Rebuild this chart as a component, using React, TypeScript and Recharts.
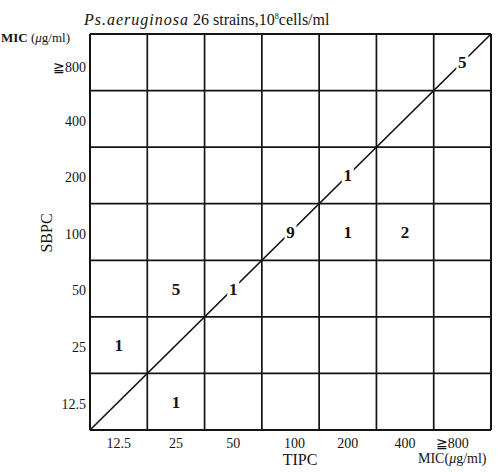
import React from 'react';
import { ScatterChart, Scatter, XAxis, YAxis, ReferenceLine } from 'recharts';

// MIC classes, lowest first (same for both drugs)
const TIPC_LABELS = ['12.5', '25', '50', '100', '200', '400', '≧800'];
const SBPC_LABELS = ['12.5', '25', '50', '100', '200', '400', '≧800'];

// strain counts per (TIPC, SBPC) cell
const CELL_TIPC = ['12.5', '25', '25', '50', '100', '200', '400', '200', '≧800'];
const CELL_SBPC = ['25', '12.5', '50', '50', '100', '100', '100', '200', '≧800'];
const CELL_COUNT = [1, 1, 5, 1, 9, 1, 2, 1, 5];

const INK = '#141414';
const FONT = '"Liberation Serif", "DejaVu Serif", serif';

const cells = CELL_COUNT.map((n, i) => ({
  x: TIPC_LABELS.indexOf(CELL_TIPC[i]) + 0.5,
  y: SBPC_LABELS.indexOf(CELL_SBPC[i]) + 0.5,
  n,
}));

const ticks = TIPC_LABELS.map((_, i) => i + 0.5);
const lines = [1, 2, 3, 4, 5, 6];

const CellLabel = (props: any) => {
  const { cx, cy, payload } = props;
  return (
    <g>
      <rect x={cx - 6} y={cy - 10} width={12} height={20} fill="#fff" />
      <text x={cx} y={cy} dy="0.35em" textAnchor="middle" fontFamily={FONT} fontSize={17} fontWeight="bold" fill={INK}>
        {payload.n}
      </text>
    </g>
  );
};

const XTick = (props: any) => {
  const { x, y, payload } = props;
  const i = Math.round(payload.value - 0.5);
  const shift = i === 6 ? -10 : i === 3 ? 4 : 0;
  return (
    <text x={x + shift} y={y} dy="0.71em" textAnchor="middle" fontFamily={FONT} fontSize={14} fill={INK}>
      {TIPC_LABELS[i]}
    </text>
  );
};

const YTick = (props: any) => {
  const { x, y, payload } = props;
  const i = Math.round(payload.value - 0.5);
  const shift = i === 6 ? 5 : 2;
  return (
    <text x={x} y={y + shift} dy="0.35em" textAnchor="end" fontFamily={FONT} fontSize={14} fill={INK}>
      {SBPC_LABELS[i]}
    </text>
  );
};

const label: React.CSSProperties = { position: 'absolute', fontFamily: FONT, color: INK, whiteSpace: 'nowrap', lineHeight: 1 };

export default function App() {
  return (
    <div style={{ position: 'absolute', left: 0, top: 0, width: 499, height: 472, background: '#fff' }}>
      <ScatterChart width={499} height={472} margin={{ top: 34, right: 8, bottom: 12, left: 40 }}>
        <XAxis
          type="number"
          dataKey="x"
          domain={[0, 7]}
          ticks={ticks}
          tick={<XTick />}
          tickLine={false}
          tickSize={0}
          tickMargin={8}
          height={30}
          axisLine={{ stroke: INK, strokeWidth: 2 }}
          interval={0}
        />
        <YAxis
          type="number"
          dataKey="y"
          domain={[0, 7]}
          ticks={ticks}
          tick={<YTick />}
          tickLine={false}
          tickSize={0}
          tickMargin={4}
          width={50}
          axisLine={{ stroke: INK, strokeWidth: 2 }}
          interval={0}
        />
        {lines.map((v) => (
          <ReferenceLine key={'x' + v} x={v} stroke={INK} strokeWidth={1.7} />
        ))}
        {lines.map((v) => (
          <ReferenceLine key={'y' + v} y={v} stroke={INK} strokeWidth={1.7} />
        ))}
        <ReferenceLine x={7} stroke={INK} strokeWidth={2} />
        <ReferenceLine y={7} stroke={INK} strokeWidth={2} />
        <ReferenceLine segment={[{ x: 0, y: 0 }, { x: 7, y: 7 }]} stroke={INK} strokeWidth={1.7} />
        <Scatter data={cells} shape={<CellLabel />} isAnimationActive={false} />
      </ScatterChart>

      <div style={{ ...label, left: 84, top: 12, fontSize: 16 }}>
        <i style={{ letterSpacing: 1 }}>Ps.aeruginosa</i> 26 strains,10<sup style={{ fontSize: 8 }}>8</sup>cells/ml
      </div>
      <div style={{ ...label, left: 1, top: 31, fontSize: 13 }}>
        <b>MIC</b> (<i>μ</i>g/ml)
      </div>
      <div style={{ ...label, left: 47, top: 233, fontSize: 16, transform: 'translate(-50%, -50%) rotate(-90deg)' }}>SBPC</div>
      <div style={{ ...label, left: 300, top: 460, fontSize: 16, transform: 'translate(-50%, -50%)' }}>TIPC</div>
      <div style={{ ...label, left: 418, top: 452, fontSize: 14 }}>
        MIC(<i>μ</i>g/ml)
      </div>
    </div>
  );
}
